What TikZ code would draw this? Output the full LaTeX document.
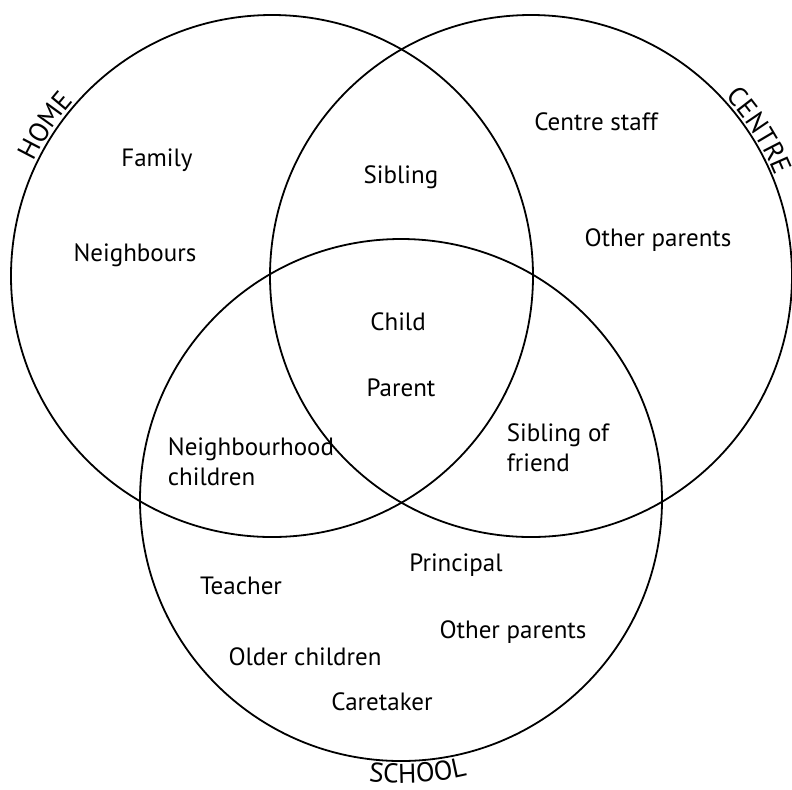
\documentclass[tikz,border=0pt]{standalone}
\usepackage{fontspec}
\setmainfont{PT Sans}
\usetikzlibrary{positioning,decorations.text}

\newcommand\vennfont{\fontsize{12.5}{15}\selectfont}
\newcommand\ringfont{\fontsize{13.6}{15}\selectfont}

\begin{document}
\begin{tikzpicture}[
  x=0.5pt, y=0.5pt,
  ring/.style={
    draw,
    circle,
    line width=0.9pt,
    minimum size=261pt,
    inner sep=0pt
  },
  member/.style={
    font=\vennfont,
    inner sep=1pt
  },
  group/.style={
    decorate,
    decoration={text along path, text align=center, text={|\ringfont|#1}}
  }
]
\useasboundingbox (0,0) rectangle (792,-789);
\node[ring] (home) at (272,-276) {};
\node[ring] (centre) at (531,-276) {};
\node[ring] (school) at (401,-500) {};
\path[group=HOME] ([shift={(162:132pt)}]home.center) arc[start angle=162, end angle=131, radius=132pt];
\path[group=CENTRE] ([shift={(49:132pt)}]centre.center) arc[start angle=49, end angle=16, radius=132pt];
\path[group=SCHOOL] ([shift={(-100:141.5pt)}]school.center) arc[start angle=-100, end angle=-73, radius=141.5pt];
\node[member] (family) at (157,-160) {Family};
\node[member] (neighbours) at (135,-255) {Neighbours};
\node[member] (sibling) at (401,-177) {Sibling};
\node[member] (child) at (398,-322) {Child};
\node[member] (parent) at (401,-388) {Parent};
\node[member] (staff) at (596,-122) {Centre staff};
\node[member] (centreparents) at (658,-240) {Other parents};
\node[member, align=left] (nbchildren) at (251,-462) {Neighbourhood\\children};
\node[member, align=left] (friendsib) at (558,-448) {Sibling of\\friend};
\node[member] (principal) at (456,-565) {Principal};
\node[member] (teacher) at (241,-586) {Teacher};
\node[member] (schoolparents) at (513,-632) {Other parents};
\node[member] (older) at (305,-657) {Older children};
\node[member] (caretaker) at (382,-702) {Caretaker};
\end{tikzpicture}
\end{document}
